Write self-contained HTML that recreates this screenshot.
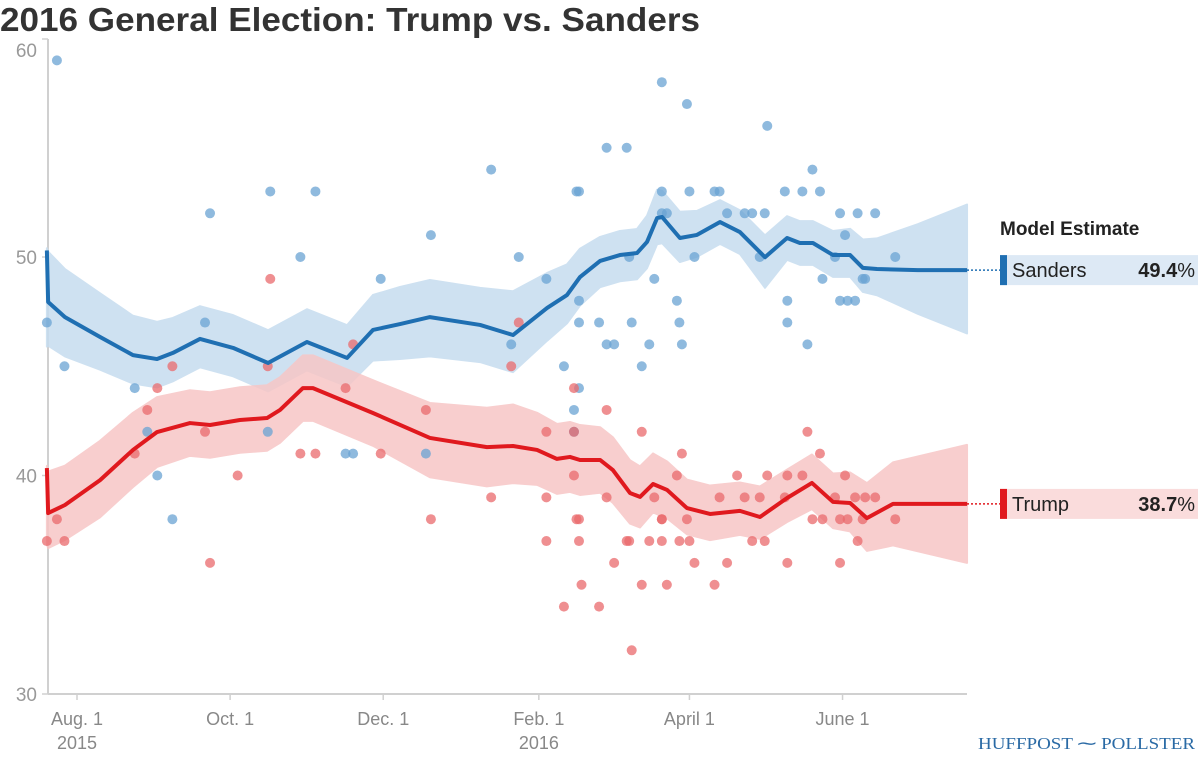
<!DOCTYPE html>
<html><head><meta charset="utf-8">
<style>
body{margin:0;background:#fff;width:1200px;height:758px;overflow:hidden;font-family:"Liberation Sans",sans-serif}
svg{display:block}
</style></head>
<body>
<svg id="chart" width="1200" height="758">
<text x="0" y="31" font-size="33" font-weight="bold" fill="#333" textLength="700" lengthAdjust="spacingAndGlyphs">2016 General Election: Trump vs. Sanders</text>
<g id="plot"></g>
<text x="1000" y="235" font-size="19" font-weight="bold" fill="#222">Model Estimate</text>
<text x="978" y="749" font-size="17" fill="#2a6aa5" font-family="Liberation Serif,serif" textLength="217" lengthAdjust="spacingAndGlyphs">HUFFPOST ⁓ POLLSTER</text>
</svg>
<script>
// days since 2015-08-01
const sandersLineDays=[-12,-11.5,-4.8,9.2,22.3,31.9,38.2,49,62.2,76.1,91.6,107.6,117.9,128.7,140.6,160.6,173.7,187.3,195.2,200.4,208.4,216.3,223.1,227.1,231.1,233.1,240.2,247,256.2,264.1,274.1,282.9,288,293.2,301.2,308,313.1,318.7,335,354.6];
const sandersLineVals=[50.3,47.94,47.25,46.34,45.51,45.33,45.61,46.25,45.84,45.15,46.11,45.38,46.66,46.93,47.25,46.89,46.43,47.67,48.26,49.08,49.82,50.09,50.18,50.69,51.78,51.83,50.87,51.01,51.6,51.14,49.99,50.87,50.64,50.64,50.09,50.09,49.5,49.45,49.4,49.4];
const sandersBandUp=[0.1,2.3,2.2,2.0,1.8,1.7,1.6,1.5,1.5,1.5,1.5,1.5,1.6,1.7,1.7,1.7,2.0,1.6,1.4,1.3,1.1,1.1,1.1,1.2,1.3,1.2,1.2,1.1,1.0,1.0,1.0,1.0,1.0,1.0,1.1,1.2,1.3,1.4,2.1,3.0];
const sandersBandLo=[4.4,2.0,1.8,1.5,1.3,1.3,1.3,1.3,1.3,1.3,1.3,1.3,1.4,1.6,1.8,1.7,1.7,1.5,1.3,1.3,1.2,1.2,1.2,1.2,1.2,1.2,1.1,1.0,1.0,1.0,1.4,1.0,1.0,1.0,1.0,1.0,1.1,1.2,2.0,2.9];
const trumpLineDays=[-12,-11.5,-4.8,9.2,22.3,31.9,45,53,64.9,75.7,80.9,90,94,117.9,140.6,163.3,173.7,183.3,191.2,196.4,200.4,208.4,213.5,220.3,224.3,229.5,235.1,243,252.2,264.1,272.1,282.9,292.8,301.2,308,314.7,325.1,354.6];
const trumpLineVals=[40.34,38.28,38.65,39.79,41.17,41.99,42.4,42.31,42.54,42.63,43.0,44.0,44.0,42.86,41.72,41.3,41.35,41.17,40.76,40.85,40.71,40.71,40.25,39.2,39.02,39.61,39.34,38.51,38.24,38.38,38.1,38.97,39.66,38.79,38.74,38.05,38.7,38.7];
const trumpBandUp=[0.1,1.9,1.8,1.8,1.7,1.6,1.5,1.5,1.5,1.5,1.5,1.5,1.5,1.5,1.6,1.8,1.9,1.7,1.6,1.6,1.6,1.5,1.5,1.5,1.4,1.4,1.3,1.3,1.3,1.3,1.4,1.3,1.3,1.3,1.4,1.6,1.9,2.7];
const trumpBandLo=[3.5,1.6,1.6,1.7,1.7,1.6,1.5,1.5,1.5,1.5,1.5,1.5,1.5,1.5,1.8,1.8,1.7,1.6,1.6,1.6,1.6,1.5,1.5,1.4,1.4,1.3,1.3,1.2,1.2,1.1,1.0,1.1,1.2,1.2,1.3,1.5,1.9,2.7];
const sandersPollDays=[-12,-8,-5,23,28,32,38,51,53,77,76,89,95,107,110,121,139,141,165,173,176,187,194,198,199,200,200,200,200,198,208,211,211,214,219,220,221,225,228,230,233,233,233,235,239,240,241,243,244,246,254,256,259,266,269,272,274,275,282,283,283,289,291,293,296,297,302,304,304,306,307,310,311,313,314,318,326];
const sandersPollVals=[47,59,45,44,42,40,38,47,52,53,42,50,53,41,41,49,41,51,54,46,50,49,45,43,53,53,48,47,44,42,47,55,46,46,55,50,47,45,46,49,58,53,52,52,48,47,46,57,53,50,53,53,52,52,52,50,52,56,53,48,47,53,46,54,53,49,50,52,48,51,48,48,52,49,49,52,50];
const trumpPollDays=[-12,-8,-5,23,28,32,38,51,53,64,76,77,89,95,107,110,121,139,141,165,173,176,187,187,187,194,198,198,198,199,200,200,201,208,211,211,214,219,220,221,225,225,228,230,233,233,233,235,239,240,241,243,244,246,254,256,259,263,266,269,272,274,275,282,283,283,289,291,293,296,297,302,304,304,306,307,310,311,313,314,318,326];
const trumpPollVals=[37,38,37,41,43,44,45,42,36,40,45,49,41,41,44,46,41,43,38,39,45,47,42,39,37,34,44,42,40,38,38,37,35,34,43,39,36,37,37,32,42,35,37,39,38,38,37,35,40,37,41,38,37,36,35,39,36,40,39,37,39,37,40,39,36,40,40,42,38,41,38,39,36,38,40,38,39,37,38,39,39,38];
const yTicks=[30,40,50,60];
const xTickDays=[0,61,122,184,244,305];
const xTickLabels=["Aug. 1","Oct. 1","Dec. 1","Feb. 1","April 1","June 1"];
const xYearLabels=["2015","","","2016","",""];
const finalSanders="49.4", finalTrump="38.7";

const NS="http://www.w3.org/2000/svg";
const g=document.getElementById('plot');
const X=d=>77+d*2.51, Y=v=>694-(v-30)*21.85;
function mk(tag,attrs,parent){const e=document.createElementNS(NS,tag);for(const k in attrs)e.setAttribute(k,attrs[k]);(parent||g).appendChild(e);return e;}

let e=mk('line',{x1:48,y1:39,x2:48,y2:694,stroke:'#d0d0d0','stroke-width':2});


e=mk('line',{x1:48,y1:694,x2:967,y2:694,stroke:'#d0d0d0','stroke-width':2});


yTicks.forEach(t=>{
 const ty=t===60?39:Y(t);
 const tk=mk('line',{x1:42,y1:ty,x2:48,y2:ty,stroke:'#d0d0d0','stroke-width':1.5});
 
 
 const y=t===60?57:Y(t)+7;
 const el=mk('text',{x:37,y:y,'font-size':19,fill:'#999','text-anchor':'end'});el.textContent=t;
 
 });
xTickDays.forEach((d,i)=>{const tk=mk('line',{x1:X(d),y1:694,x2:X(d),y2:700,stroke:'#d0d0d0','stroke-width':1.5});


const el=mk('text',{x:X(d),y:725,'font-size':18,fill:'#888','text-anchor':'middle'});el.textContent=xTickLabels[i];


if(xYearLabels[i]){const yl=mk('text',{x:X(d),y:749,'font-size':18,fill:'#888','text-anchor':'middle'});yl.textContent=xYearLabels[i];

}});

function band(days,vals,up,lo,fill,name){
 let a=days.map((d,i)=>X(d)+','+Y(vals[i]+up[i]));
 let b=days.map((d,i)=>X(d)+','+Y(vals[i]-lo[i])).reverse();
 const p=mk('polygon',{points:a.concat(b).join(' '),fill:fill,opacity:0.85,'stroke':fill,'stroke-width':2,'stroke-linejoin':'round'});
 
 
}
function line(days,vals,col,name){
 const p=mk('polyline',{points:days.map((d,i)=>X(d)+','+Y(vals[i])).join(' '),fill:'none',stroke:col,'stroke-width':4,'stroke-linejoin':'round'});
 
 
}
function dots(days,vals,col,name){
 days.forEach((d,i)=>{const c=mk('circle',{cx:X(d),cy:Y(vals[i]),r:5,fill:col,'fill-opacity':0.75});
 
 });
}
band(sandersLineDays,sandersLineVals,sandersBandUp,sandersBandLo,'#c6dcef','sanders-confidence-band');
band(trumpLineDays,trumpLineVals,trumpBandUp,trumpBandLo,'#f7c6c6','trump-confidence-band');
dots(sandersPollDays,sandersPollVals,'#6aa3d3','sanders-poll-dot');
dots(trumpPollDays,trumpPollVals,'#ea6a6c','trump-poll-dot');
line(sandersLineDays,sandersLineVals,'#1f6fb2','sanders-trend-line');
line(trumpLineDays,trumpLineVals,'#e0191e','trump-trend-line');

function legend(val,label,txt,col,bg,name){
 const y=Y(val);
 const svg=document.getElementById('chart');
 const dl=mk('line',{x1:967,y1:y,x2:1000,y2:y,stroke:col,'stroke-width':1.5,'stroke-dasharray':'2,2'},svg);
 
 
 const r=mk('rect',{x:1000,y:y-15,width:198,height:30,fill:bg},svg);
 
 
 const b=mk('rect',{x:1000,y:y-15,width:7,height:30,fill:col},svg);
 
 
 const t=mk('text',{x:1012,y:y+7,'font-size':20,fill:'#222'},svg);t.textContent=label;
 
 
 const v=mk('text',{x:1195,y:y+7,'font-size':20,fill:'#222','text-anchor':'end'},svg);
 const ts=document.createElementNS(NS,'tspan');ts.setAttribute('font-weight','bold');ts.textContent=txt;v.appendChild(ts);
 const ts2=document.createElementNS(NS,'tspan');ts2.textContent='%';v.appendChild(ts2);
 
 
}
legend(sandersLineVals[sandersLineVals.length-1],'Sanders',finalSanders,'#1f6fb2','#dde9f5','legend-sanders');
legend(trumpLineVals[trumpLineVals.length-1],'Trump',finalTrump,'#e0191e','#fadcdc','legend-trump');
</script>
</body></html>
